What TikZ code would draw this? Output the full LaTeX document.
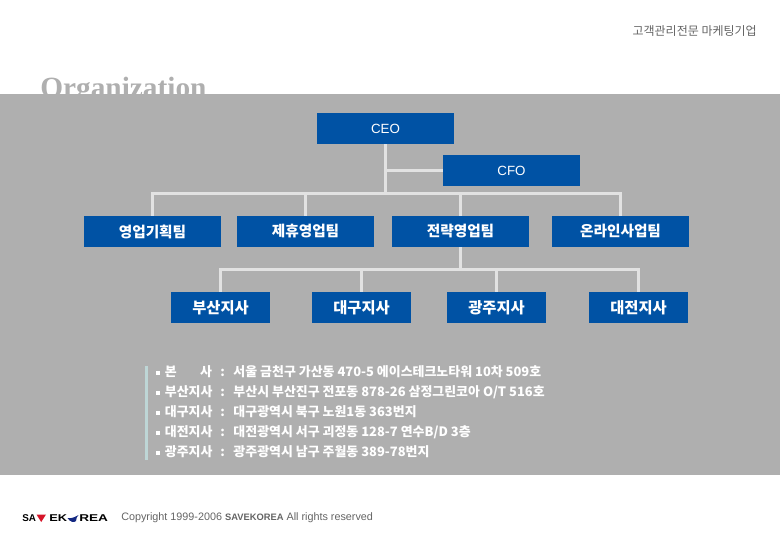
\documentclass[tikz,border=0pt]{standalone}
\usepackage{xcolor}
\usepackage{fontspec}
\setmainfont{Liberation Sans}
\newfontfamily\krfont{Noto Sans CJK KR}
\newfontfamily\titlefont{Liberation Serif}
\usetikzlibrary{positioning}
\definecolor{panelgray}{RGB}{175,175,175}
\definecolor{boxblue}{RGB}{0,82,164}
\definecolor{linegray}{RGB}{226,226,226}
\definecolor{barteal}{RGB}{190,214,214}
\definecolor{textgray}{RGB}{100,100,100}
\definecolor{logored}{RGB}{214,20,40}
\definecolor{logoblue}{RGB}{20,40,130}
\tikzset{
  topbox/.style={rectangle, fill=boxblue, text=white, inner sep=0pt,
    minimum width=103pt, minimum height=23.25pt, font=\fontsize{10}{12}\selectfont},
  teambox/.style={topbox, font=\krfont\bfseries\fontsize{11}{12}\selectfont},
  branchbox/.style={teambox, minimum width=74pt, font=\krfont\bfseries\fontsize{11.5}{12}\selectfont},
  conn/.style={draw=linegray, line width=2.25pt},
  listitem/.style={anchor=west, text=white, inner sep=0pt, font=\krfont\bfseries\fontsize{9.7}{10}\selectfont},
  logotext/.style={anchor=west, inner sep=0pt, text=black, font=\bfseries\fontsize{7.4}{9}\selectfont}
}
\newcommand{\listdot}{\rule[1.6pt]{2.7pt}{2.7pt}\hspace{3.8pt}}
\begin{document}
\begin{tikzpicture}[x=0.75pt, y=-0.75pt]
  \useasboundingbox (0,0) rectangle (780,540);

  % Header and title (the panel covers the foot of the title)
  \node[anchor=east, inner sep=0pt, text=textgray, font=\krfont\fontsize{9}{10}\selectfont] (slogan) at (757,31) {고객관리전문 마케팅기업};
  \node[anchor=base west, inner sep=0pt, text=panelgray, font=\titlefont\bfseries\fontsize{22}{24}\selectfont] (title) at (40,97) {Organization};
  \fill[panelgray] (0,94) rectangle (780,475);

  % Boxes
  \node[topbox] (ceo) at (385.5,128.5) {CEO};
  \node[topbox] (cfo) at (511.5,170.5) {CFO};

  \node[teambox] (plan) at (152.5,231.5) {영업기획팀};
  \node[teambox] (allia) at (305.5,231.5) {제휴영업팀};
  \node[teambox] (strat) at (460.5,231.5) {전략영업팀};
  \node[teambox] (online) at (620.5,231.5) {온라인사업팀};

  \node[branchbox] (busan) at (220.5,307.5) {부산지사};
  \node[branchbox] (daegu) at (361.5,307.5) {대구지사};
  \node[branchbox] (gwangju) at (496.5,307.5) {광주지사};
  \node[branchbox] (daejeon) at (638.5,307.5) {대전지사};

  % Connectors
  \coordinate (teambus) at (0,193.5);
  \coordinate (branchbus) at (0,269.5);
  \draw[conn] (ceo.south) -- (ceo.south |- teambus);
  \draw[conn] (ceo.south |- cfo.west) -- (cfo.west);
  \draw[conn] (plan.north) -- (plan.north |- teambus) -- (online.north |- teambus) -- (online.north);
  \draw[conn] (allia.north) -- (allia.north |- teambus);
  \draw[conn] (strat.north) -- (strat.north |- teambus);
  \draw[conn] (strat.south) -- (strat.south |- branchbus);
  \draw[conn] (busan.north) -- (busan.north |- branchbus) -- (daejeon.north |- branchbus) -- (daejeon.north);
  \draw[conn] (daegu.north) -- (daegu.north |- branchbus);
  \draw[conn] (gwangju.north) -- (gwangju.north |- branchbus);

  % Address list
  \fill[barteal] (145,366) rectangle (148,460);
  \node[listitem] (lab1) at (156,372) {\listdot 본\hspace{17.5pt}사};
  \node[listitem] (adr1) at (220,372) {:\hspace{6.5pt}서울 금천구 가산동 470-5 에이스테크노타워 10차 509호};
  \node[listitem] (lab2) at (156,392) {\listdot 부산지사};
  \node[listitem] (adr2) at (220,392) {:\hspace{6.5pt}부산시 부산진구 전포동 878-26 삼정그린코아 O/T 516호};
  \node[listitem] (lab3) at (156,412) {\listdot 대구지사};
  \node[listitem] (adr3) at (220,412) {:\hspace{6.5pt}대구광역시 북구 노원1동 363번지};
  \node[listitem] (lab4) at (156,432) {\listdot 대전지사};
  \node[listitem] (adr4) at (220,432) {:\hspace{6.5pt}대전광역시 서구 괴정동 128-7 연수B/D 3층};
  \node[listitem] (lab5) at (156,452) {\listdot 광주지사};
  \node[listitem] (adr5) at (220,452) {:\hspace{6.5pt}광주광역시 남구 주월동 389-78번지};

  % Footer logo and copyright
  \node[logotext] (logosa) at (22,518) {SA};
  \fill[logored] (36.5,514.5) -- (46,514.5) -- (41.2,522) -- cycle;
  \node[logotext] (logoek) at (49,518) {\scalebox{1.3}[1]{EK}};
  \fill[logoblue] (67.5,518) .. controls (70,522) and (74,523) .. (76,521) .. controls (76,519) and (77,516) .. (78.5,515) .. controls (75,517) and (71,519) .. (67.5,518);
  \node[logotext] (logorea) at (79,518) {\scalebox{1.38}[1]{REA}};
  \node[anchor=west, inner sep=0pt, text=textgray, font=\fontsize{8.1}{10}\selectfont] (copy) at (121,518) {Copyright 1999-2006 {\bfseries\fontsize{7}{10}\selectfont SAVEKOREA} All rights reserved};
\end{tikzpicture}
\end{document}
